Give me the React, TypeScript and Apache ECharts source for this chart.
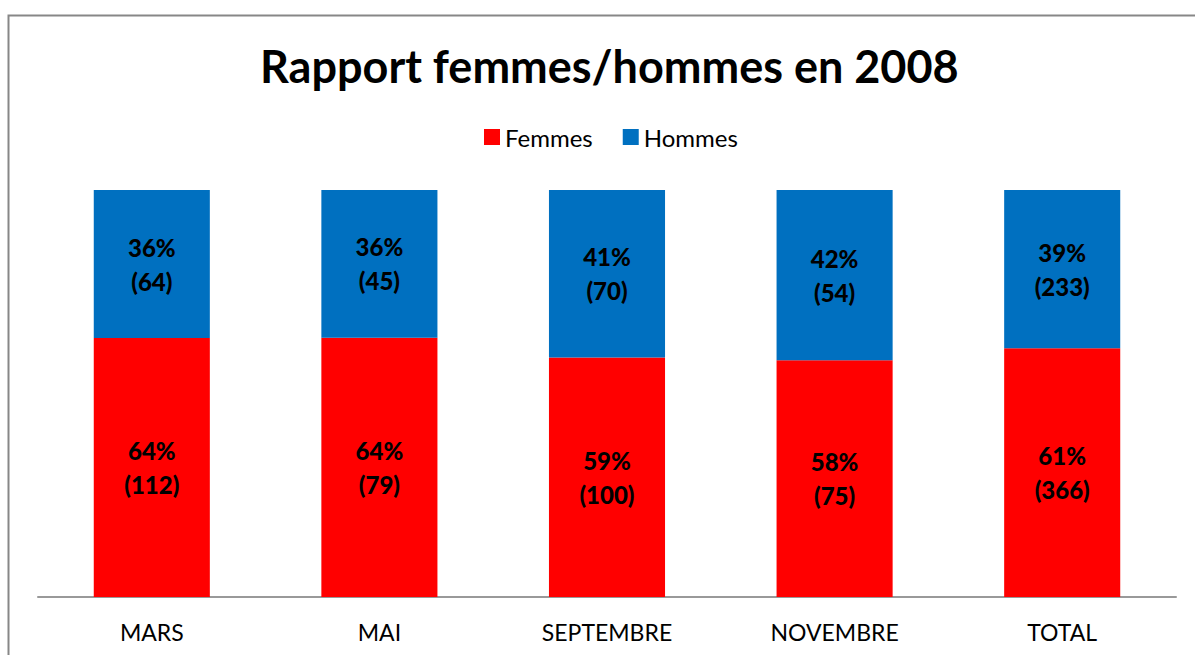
import React, { useEffect, useRef } from "react";
import * as echarts from "echarts";

const categories = ["MARS", "MAI", "SEPTEMBRE", "NOVEMBRE", "TOTAL"];
const femmes = [112, 79, 100, 75, 366];
const hommes = [64, 45, 70, 54, 233];
const titleText = "Rapport femmes/hommes en 2008";

const FONT = "Lato, 'Open Sans', sans-serif";

export default function App() {
  const ref = useRef<HTMLDivElement>(null);
  useEffect(() => {
    if (!ref.current) return;
    const chart = echarts.init(ref.current, null, { renderer: "svg" });
    const totals = categories.map((_, i) => femmes[i] + hommes[i]);
    const pctF = femmes.map((v, i) => (v / totals[i]) * 100);
    const pctH = hommes.map((v, i) => (v / totals[i]) * 100);
    const lbl = (counts: number[]) => ({
      show: true,
      position: "inside",
      color: "#000",
      fontFamily: FONT,
      fontWeight: 900,
      fontSize: 24,
      lineHeight: 34,
      formatter: (p: any) => `${Math.round(p.value)}%\n(${counts[p.dataIndex]})`,
    });
    chart.setOption({
      animation: false,
      backgroundColor: "#fff",
      title: {
        text: titleText,
        left: 255,
        top: 38,
        textStyle: { fontFamily: FONT, fontWeight: "bold", fontSize: 45, color: "#000" },
      },
      legend: {
        top: 120,
        left: 479,
        itemWidth: 16,
        itemHeight: 16,
        itemGap: 30,
        icon: "rect",
        textStyle: { fontFamily: FONT, fontSize: 24, color: "#000" },
        data: ["Femmes", "Hommes"],
      },
      graphic: [
        {
          type: "rect",
          shape: { x: 8.5, y: 15.5, width: 1300, height: 800 },
          style: { fill: "none", stroke: "#878787", lineWidth: 2 },
          silent: true,
        },
      ],
      grid: { left: 38, right: 19, top: 190, bottom: 58 },
      xAxis: {
        type: "category",
        data: categories,
        axisLine: { lineStyle: { color: "#999", width: 2 } },
        axisTick: { show: false },
        axisLabel: { color: "#000", fontFamily: FONT, fontSize: 23, margin: 23 },
      },
      yAxis: { type: "value", min: 0, max: 100, show: false, splitLine: { show: false } },
      series: [
        {
          name: "Femmes",
          type: "bar",
          stack: "s",
          barWidth: "51%",
          data: pctF,
          itemStyle: { color: "#FF0000" },
          label: lbl(femmes),
        },
        {
          name: "Hommes",
          type: "bar",
          stack: "s",
          barWidth: "51%",
          data: pctH,
          itemStyle: { color: "#0070C0" },
          label: lbl(hommes),
        },
      ],
    });
    return () => chart.dispose();
  }, []);
  return (
    <div
      ref={ref}
      style={{ position: "fixed", left: 0, top: 0, width: 1195, height: 655 }}
    />
  );
}
